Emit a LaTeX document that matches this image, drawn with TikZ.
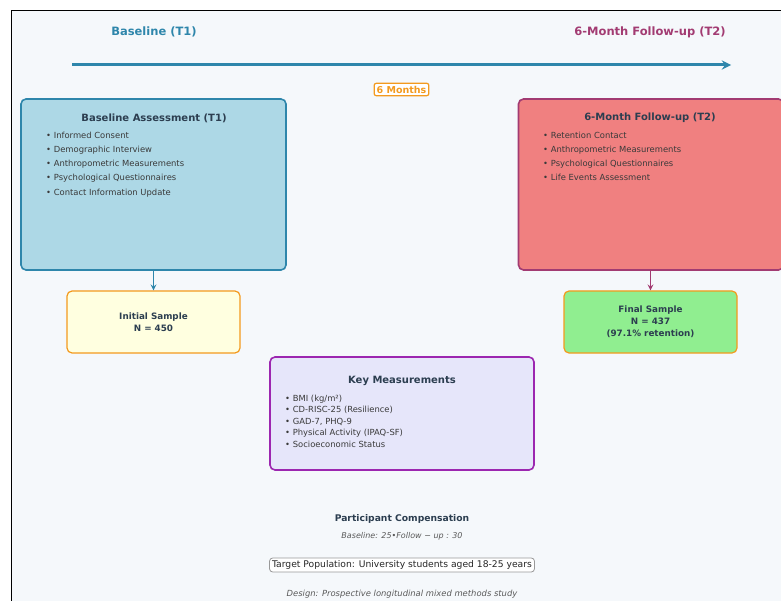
\documentclass[tikz,border=0pt]{standalone}
\usepackage{fontspec}
\setmainfont{DejaVu Sans}
\usepackage{xcolor}
\usetikzlibrary{positioning}

\definecolor{tlblue}{HTML}{2E86AB}
\definecolor{tlpink}{HTML}{A23B72}
\definecolor{tlorange}{HTML}{F39A1E}
\definecolor{boxblue}{HTML}{ADD8E6}
\definecolor{boxcoral}{HTML}{F08080}
\definecolor{boxyellow}{HTML}{FFFFE0}
\definecolor{boxgreen}{HTML}{90EE90}
\definecolor{boxlav}{HTML}{E6E6FA}
\definecolor{keypurple}{HTML}{9C27B0}
\definecolor{bgpaper}{HTML}{F5F8FB}
\definecolor{navy}{HTML}{2C3E50}
\definecolor{itemgray}{HTML}{3A3A3A}

\begin{document}
\begin{tikzpicture}[
    x=1pt, y=-1pt,
    box/.style={draw, rectangle, rounded corners=5pt, line width=1.6pt},
    arrow/.style={->, >=stealth, line width=1.6pt},
    title/.style={font=\bfseries\fontsize{10}{12}\selectfont, text=navy},
    items/.style={anchor=north west, align=left, inner sep=0pt, text=itemgray},
    note/.style={font=\itshape\fontsize{8.4}{10}\selectfont, text=black!65}
]
    \useasboundingbox (0,0) rectangle (781,601);
    \fill[bgpaper] (11,11) rectangle (781,601);
    \draw[black, line width=1pt] (11,11) rectangle (795,615);

    % Timeline
    \node[font=\bfseries\fontsize{11.5}{14}\selectfont, text=tlblue] (t1) at (154,32) {Baseline (T1)};
    \node[font=\bfseries\fontsize{11.5}{14}\selectfont, text=tlpink] (t2) at (650,32) {6-Month Follow-up (T2)};
    \coordinate (tstart) at (72,65);
    \coordinate (tend) at (731,65);
    \draw[->, >=stealth, line width=3pt, tlblue] (tstart) -- (tend);
    \node[draw=tlorange, fill=white, rounded corners=2pt, line width=1.2pt, inner sep=2.5pt,
          font=\bfseries\fontsize{9.5}{11}\selectfont, text=tlorange] (gap) at (401.5,89.5) {6 Months};

    % Nodes
    \node[box, draw=tlblue, fill=boxblue, minimum width=265pt, minimum height=171pt] (base) at (153.5,184.5) {};
    \node[box, draw=tlpink, fill=boxcoral, minimum width=265pt, minimum height=171pt] (follow) at (651,184.5) {};
    \node[box, draw=tlorange, fill=boxyellow, minimum width=173pt, minimum height=62pt, line width=1.2pt,
          font=\bfseries\fontsize{8.8}{11.5}\selectfont, text=navy, align=center] (init) at (153.5,322) {Initial Sample\\N = 450};
    \node[box, draw=tlorange, fill=boxgreen, minimum width=173pt, minimum height=62pt, line width=1.2pt,
          font=\bfseries\fontsize{8.8}{11.8}\selectfont, text=navy, align=center] (final) at (650.5,322) {Final Sample\\N = 437\\(97.1\% retention)};
    \node[box, draw=keypurple, fill=boxlav, minimum width=264pt, minimum height=113pt] (keys) at (402,413.5) {};

    % Box contents
    \node[title] (basetitle) at (154,118) {Baseline Assessment (T1)};
    \node[items, font=\fontsize{8.4}{14.3}\selectfont] (baseitems) at (46,131.5)
        {• Informed Consent\\• Demographic Interview\\• Anthropometric Measurements\\• Psychological Questionnaires\\• Contact Information Update};
    \node[title] (followtitle) at (650,118) {6-Month Follow-up (T2)};
    \node[items, font=\fontsize{8.4}{14.3}\selectfont] (followitems) at (543,131.5)
        {• Retention Contact\\• Anthropometric Measurements\\• Psychological Questionnaires\\• Life Events Assessment};
    \node[title] (keytitle) at (402,381) {Key Measurements};
    \node[items, font=\fontsize{8.4}{11.5}\selectfont] (keyitems) at (285,394.5)
        {• BMI (kg/m²)\\• CD-RISC-25 (Resilience)\\• GAD-7, PHQ-9\\• Physical Activity (IPAQ-SF)\\• Socioeconomic Status};

    % Connections
    \draw[arrow, tlblue] (base) -- (init);
    \draw[arrow, tlpink] (follow.south -| final.north) -- (final);

    % Footer
    \node[font=\bfseries\fontsize{9.2}{11}\selectfont, text=navy] (comp) at (402,519) {Participant Compensation};
    \node[note, font=\itshape\fontsize{8}{9}\selectfont] (compnote) at (402,536) {Baseline: 25•Follow − up : 30};
    \node[draw=black!40, fill=white, rounded corners=3pt, line width=0.8pt, inner sep=2.5pt,
          font=\fontsize{9.2}{11}\selectfont, text=black!85] (target) at (402,565) {Target Population: University students aged 18-25 years};
    \node[note] (design) at (402,594) {Design: Prospective longitudinal mixed methods study};
\end{tikzpicture}
\end{document}
